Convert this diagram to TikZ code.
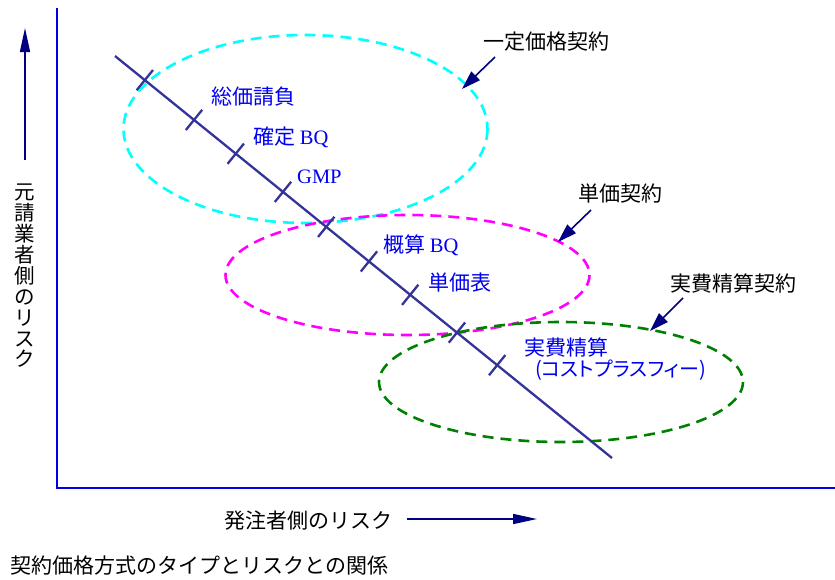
\documentclass[tikz,border=0pt]{standalone}
\usepackage{fontspec}
\setmainfont{Liberation Serif}
\newfontfamily\jp{Noto Sans CJK JP}
\newfontfamily\jpp[RawFeature=+palt]{Noto Sans CJK JP}
\usetikzlibrary{arrows.meta,calc}
\definecolor{axisblue}{RGB}{0,0,230}
\definecolor{navy}{RGB}{0,0,128}
\definecolor{diag}{RGB}{51,51,153}
\definecolor{lbl}{RGB}{0,0,240}
\definecolor{dgreen}{RGB}{0,128,0}
\definecolor{ecyan}{RGB}{0,255,255}
\definecolor{emag}{RGB}{255,0,255}
\begin{document}
\begin{tikzpicture}[x=1pt,y=-1pt,
  jtext/.style={font=\jp\fontsize{21}{21}\selectfont, text=black, inner sep=0pt},
  blabel/.style={font=\jp\fontsize{21}{21}\selectfont, text=lbl, inner sep=0pt, anchor=west},
  latn/.style={font=\rmfamily\fontsize{20.5}{20.5}\selectfont},
  region/.style={line width=2.6pt, dash pattern=on 11pt off 7pt},
  callout/.style={draw=navy, line width=1.6pt, -{Triangle[length=19pt,width=12pt]}},
  axisarrow/.style={draw=navy, line width=1.6pt, -{Triangle[length=24pt,width=10pt]}},
  tickmark/.style={draw=diag, line width=2.3pt}]
\useasboundingbox (0,0) rectangle (835,579);
% axes
\coordinate (ytop) at (57,8);
\coordinate (origin) at (57,488);
\coordinate (xend) at (835,488);
\draw[axisblue, line width=1.6pt] (ytop) -- (origin) -- (xend);
% ellipses
\draw[region, draw=ecyan] (305.5,129) ellipse [x radius=182, y radius=94];
\draw[region, draw=emag] (407.5,275) ellipse [x radius=182, y radius=60];
\draw[region, draw=dgreen] (561,382) ellipse [x radius=182, y radius=60];
% diagonal line with ticks
\coordinate (dA) at (115,56);
\coordinate (dB) at (612,458);
\draw[diag, line width=2.3pt] (dA) -- (dB);
\foreach \p [count=\i] in {0.060,0.159,0.243,0.338,0.425,0.511,0.594,0.688,0.769}{
  \coordinate (t\i) at ($(dA)!\p!(dB)$);
  \draw[tickmark] ($(t\i)!13pt!90:(dB)$) -- ($(t\i)!13pt!-90:(dB)$);
}
% blue labels
\node[blabel] (l1) at (211,97) {総価請負};
\node[blabel] (l2) at (253,137) {確定 {\rmfamily\fontsize{20.5}{20.5}\selectfont BQ}};
\node[blabel, latn] (l3) at (297,177) {GMP};
\node[blabel] (l4) at (383,245) {概算 {\rmfamily\fontsize{20.5}{20.5}\selectfont BQ}};
\node[blabel] (l5) at (428,283) {単価表};
\node[blabel] (l6) at (524,347) {実費精算};
\node[blabel, font=\jpp\fontsize{20}{20}\selectfont] (l7) at (535,370) {(コストプラスフィー)};
% callouts
\node[jtext, anchor=west] (c1) at (483,42) {一定価格契約};
\node[jtext, anchor=west] (c2) at (578,194) {単価契約};
\node[jtext, anchor=west] (c3) at (670,283) {実費精算契約};
\coordinate (c1s) at (495,57);  \coordinate (c1t) at (462,89);
\coordinate (c2s) at (591,210); \coordinate (c2t) at (558,242);
\coordinate (c3s) at (683,298); \coordinate (c3t) at (650,331);
\draw[callout] (c1s) -- (c1t);
\draw[callout] (c2s) -- (c2t);
\draw[callout] (c3s) -- (c3t);
% y axis label and arrow
\node[jtext, align=center, font=\jp\fontsize{20.5}{20.9}\selectfont] (ylab) at (25,276)
  {元\\請\\業\\者\\側\\の\\リ\\ス\\ク};
\coordinate (ya1) at (25,160); \coordinate (ya2) at (25,28);
\draw[axisarrow] (ya1) -- (ya2);
% x axis label and arrow
\node[jtext, anchor=west] (xlab) at (224,521) {発注者側のリスク};
\coordinate (xa1) at (407,519); \coordinate (xa2) at (537,519);
\draw[axisarrow] (xa1) -- (xa2);
% caption
\node[jtext, anchor=west] (cap) at (10,566) {契約価格方式のタイプとリスクとの関係};
\end{tikzpicture}
\end{document}
